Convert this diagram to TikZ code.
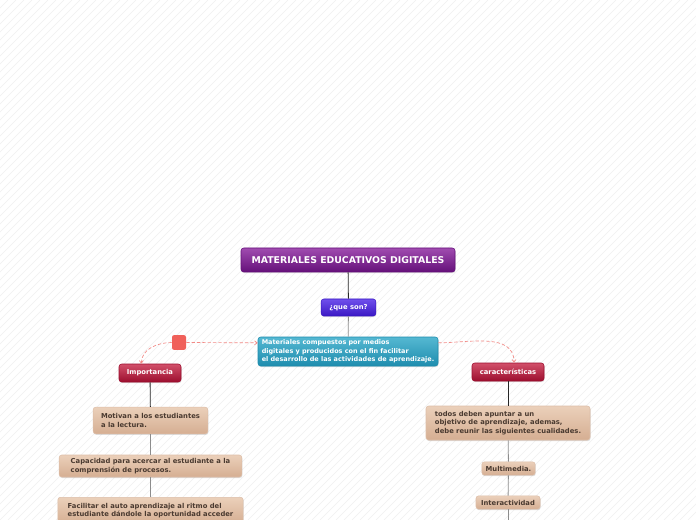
\documentclass[tikz,border=0pt]{standalone}
\usepackage{fontspec}
\setsansfont{DejaVu Sans}
\usetikzlibrary{arrows.meta, positioning, shadows}
\usepackage{xcolor}

\definecolor{rootTop}{HTML}{A04CB0}
\definecolor{rootBot}{HTML}{65107A}
\definecolor{askTop}{HTML}{7050EC}
\definecolor{askBot}{HTML}{3A18C4}
\definecolor{descTop}{HTML}{55B8D2}
\definecolor{descBot}{HTML}{1E8DAE}
\definecolor{catTop}{HTML}{D2506A}
\definecolor{catBot}{HTML}{9C0E2E}
\definecolor{leafTop}{HTML}{EBD0BA}
\definecolor{leafBot}{HTML}{D5AE92}
\definecolor{leafText}{HTML}{4A3A30}
\definecolor{relColor}{HTML}{F28A86}
\definecolor{handleColor}{HTML}{F0605A}

\begin{document}
\begin{tikzpicture}[x=0.75pt, y=-0.75pt,
    base/.style = {rectangle, rounded corners=2pt, inner sep=2pt, font=\sffamily\bfseries\fontsize{5.1}{6.4}\selectfont, drop shadow={shadow xshift=0.4pt, shadow yshift=-0.8pt, opacity=0.25}},
    rootbox/.style = {base, top color=rootTop, bottom color=rootBot, draw=rootBot, text=white, font=\sffamily\bfseries\fontsize{7}{8}\selectfont, minimum width=160.5pt, minimum height=18pt},
    askbox/.style = {base, top color=askTop, bottom color=askBot, draw=askBot, text=white, minimum width=41pt, minimum height=12.75pt},
    descbox/.style = {base, top color=descTop, bottom color=descBot, draw=descBot, text=white, align=left, font=\sffamily\bfseries\fontsize{4.85}{6.4}\selectfont, minimum width=135pt, minimum height=21.75pt},
    catbox/.style = {base, top color=catTop, bottom color=catBot, draw=catBot, text=white, minimum height=13.5pt},
    leafbox/.style = {base, top color=leafTop, bottom color=leafBot, draw=leafBot!80, text=leafText, align=left},
    handle/.style = {rectangle, rounded corners=1.5pt, fill=handleColor, minimum width=10.5pt, minimum height=11pt, inner sep=0pt},
    trunk/.style = {draw=black!85, line width=0.6pt},
    link/.style = {draw=black!45, line width=0.6pt},
    rel/.style = {draw=relColor, dashed, dash pattern=on 2.5pt off 1.5pt, line width=0.5pt, -{Straight Barb[length=2pt, width=3pt]}},
    stripe/.style = {draw=black!6, line width=0.5pt}
]

% Background
\useasboundingbox (0,0) rectangle (696,520);
\begin{scope}
  \clip (0,0) rectangle (696,520);
  \fill[white] (0,0) rectangle (696,520);
  \foreach \k in {0,...,152} {
    \draw[stripe] (\k*8-520,520) -- ++(520,-520);
  }
\end{scope}

% Root Node
\node (root) [rootbox, at={(348,260)}] {MATERIALES EDUCATIVOS DIGITALES};

% Question and description
\node (ask) [askbox, at={(348.5,307.5)}] {¿que son?};
\node (desc) [descbox, at={(348,351.5)}] {Materiales compuestos por medios\\digitales y producidos con el fin facilitar\\el desarrollo de las actividades de aprendizaje.};

% Relation handle
\node (handle) [handle, at={(179,342.5)}] {};

% Level 1 Nodes
\node (imp) [catbox, minimum width=46.5pt, at={(150,373)}] {Importancia};
\node (car) [catbox, minimum width=54pt, at={(508,372)}] {características};

% Column 1: Importancia
\node (motiv) [leafbox, minimum width=86pt, minimum height=20pt, at={(150.5,420.5)}] {Motivan a los estudiantes\\a la lectura.};
\node (capac) [leafbox, minimum width=137pt, minimum height=16.5pt, at={(150.5,466)}] {Capacidad para acercar al estudiante a la\\comprensión de procesos.};
\node (facil) [leafbox, minimum width=139pt, minimum height=20pt, anchor=north, at={(150.5,497)}] {Facilitar el auto aprendizaje al ritmo del\\estudiante dándole la oportunidad acceder};

% Column 2: caracteristicas
\node (todos) [leafbox, minimum width=123pt, minimum height=25.5pt, at={(508,423)}] {todos deben apuntar a un\\objetivo de aprendizaje, ademas,\\debe reunir las siguientes cualidades.};
\node (multi) [leafbox, minimum width=40pt, minimum height=10pt, at={(508.5,468.5)}] {Multimedia.};
\node (inter) [leafbox, minimum width=48pt, minimum height=10pt, at={(508,502.5)}] {Interactividad};
\coordinate (tail) at (508,530);

% Connections
\draw [trunk] (root) -- (ask);
\draw [link] (ask) -- (desc);

\draw [trunk] (imp) -- (motiv);
\draw [link] (motiv) -- (capac);
\draw [link] (capac) -- (facil);

\draw [trunk] (car) -- (todos);
\draw [link] (todos) -- (multi);
\draw [link] (multi) -- (inter);
\draw [link] (inter) -- (tail);

% Relations
\draw [rel] (handle.east) -- ([yshift=6.5pt]desc.west);
\draw [rel] (handle.west) to[out=180, in=90] ([xshift=-6.5pt]imp.north);
\draw [rel] ([yshift=6.5pt]desc.east) to[out=0, in=90] ([xshift=4.5pt]car.north);

\end{tikzpicture}
\end{document}
